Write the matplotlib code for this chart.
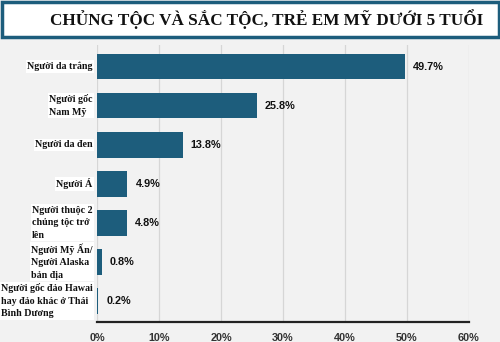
import matplotlib.pyplot as plt
from matplotlib.patches import Rectangle
from matplotlib.ticker import FuncFormatter

categories = [
    "Người da trắng",
    "Người gốc\nNam Mỹ",
    "Người da đen",
    "Người Á",
    "Người thuộc 2\nchủng tộc trở\nlên",
    "Người Mỹ Ấn/\nNgười Alaska\nbản địa",
    "Người gốc đảo Hawai\nhay đảo khác ở Thái\nBình Dương",
]
values = [49.7, 25.8, 13.8, 4.9, 4.8, 0.8, 0.2]
ticks = [0, 10, 20, 30, 40, 50, 60]
title = "CHỦNG TỘC VÀ SẮC TỘC, TRẺ EM MỸ DƯỚI 5 TUỔI"

BAR = "#1d5d7c"
BG = "#f2f2f2"

fig = plt.figure(figsize=(5, 3.42), dpi=100, facecolor=BG)

# title banner
fig.patches.append(Rectangle((0.003, 0.892), 0.994, 0.103, transform=fig.transFigure,
                             facecolor="white", edgecolor=BAR, linewidth=2.5))
fig.text(0.533, 0.944, title, ha="center", va="center", fontsize=12.3,
         fontweight="bold", family="Liberation Serif", color="#111111")

ax = fig.add_axes([0.194, 0.058, 0.744, 0.81])
ax.set_facecolor(BG)
y = range(len(categories))
ax.barh(y, values, height=0.66, color=BAR, zorder=3)
ax.set_ylim(len(categories) - 0.45, -0.55)
ax.set_xlim(0, 60)
ax.set_xticks(ticks)
ax.xaxis.set_major_formatter(FuncFormatter(lambda v, p: f"{v:.0f}%"))
ax.grid(axis="x", color="#d6d6d6", linewidth=0.9, zorder=0)
for s in ["top", "right", "left"]:
    ax.spines[s].set_visible(False)
ax.spines["bottom"].set_color("#222222")
ax.spines["bottom"].set_linewidth(1.6)
ax.tick_params(axis="x", length=0, pad=8, labelsize=7.8, labelcolor="#333333")
for lbl in ax.get_xticklabels():
    lbl.set_fontweight("bold")
    lbl.set_family("Liberation Sans")
ax.set_yticks([])

for i, (c, v) in enumerate(zip(categories, values)):
    ax.text(v + 1.3, i, f"{v}%", va="center", ha="left", fontsize=7.8,
            fontweight="bold", family="Liberation Sans", color="#111111")
    ax.text(-0.7, i, c, va="center", ha="right", multialignment="left",
            fontsize=7.2, fontweight="bold", family="Liberation Serif",
            color="#111111", linespacing=1.5,
            bbox=dict(facecolor="white", edgecolor="none", pad=1.0))

fig.savefig("out.png", dpi=100, facecolor=BG)
